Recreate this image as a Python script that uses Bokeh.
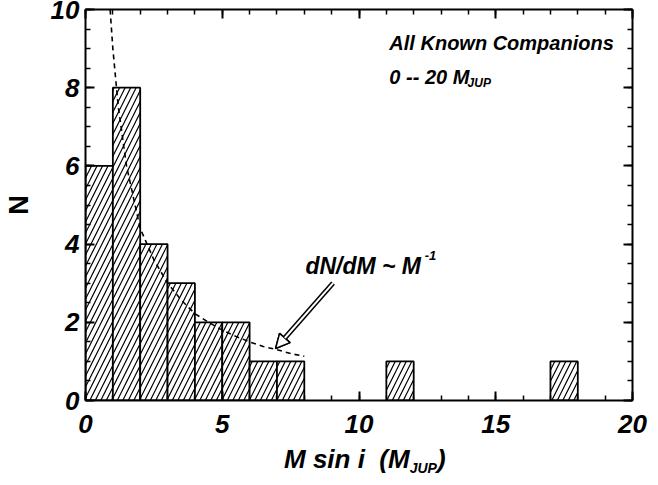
from bokeh.plotting import figure
from bokeh.models import Range1d, LinearAxis, SingleIntervalTicker, Label, Arrow, NormalHead, Div
from bokeh.layouts import column
from bokeh.embed import file_html
from bokeh.resources import INLINE

# Histogram of companion masses (M sin i, Jupiter masses), bins of width 1
bin_left = [0, 1, 2, 3, 4, 5, 6, 7, 11, 17]
bin_right = [1, 2, 3, 4, 5, 6, 7, 8, 12, 18]
counts = [6, 8, 4, 3, 2, 2, 1, 1, 1, 1]

# dashed dN/dM ~ M^-1 curve
curve_m = [0.9, 1.0, 1.2, 1.5, 2.0, 2.5, 3.0, 3.5, 4.0, 4.5, 5.0, 5.5, 6.0, 6.5, 7.0, 7.5, 8.0]
curve_n = [10.0, 9.0, 7.5, 6.0, 4.4, 3.6, 3.0, 2.57, 2.22, 2.0, 1.8, 1.64, 1.5, 1.38, 1.3, 1.2, 1.13]

# arrow pointing at the curve
arrow_tail = (9.05, 3.0)
arrow_tip = (6.95, 1.33)

x_ticks_interval = 5
y_ticks_interval = 2

FONT = "Liberation Sans"

p = figure(x_range=Range1d(0, 20), y_range=Range1d(0, 10),
           frame_width=547, frame_height=391,
           min_border_left=85, min_border_right=16, min_border_top=9, min_border_bottom=44,
           output_backend="svg", toolbar_location=None,
           x_axis_location=None, y_axis_location=None)
p.grid.visible = False
p.outline_line_color = None
p.background_fill_color = "white"
p.border_fill_color = "white"


def style_axis(ax, show_labels):
    ax.axis_line_width = 2
    ax.axis_line_color = "black"
    ax.major_tick_line_width = 2
    ax.minor_tick_line_width = 1.5
    ax.major_tick_line_color = "black"
    ax.minor_tick_line_color = "black"
    ax.major_tick_in = 9
    ax.major_tick_out = 0
    ax.minor_tick_in = 5
    ax.minor_tick_out = 0
    ax.major_label_text_font = FONT
    ax.major_label_text_font_style = "bold italic"
    if show_labels:
        ax.major_label_text_color = "black"
        ax.major_label_text_font_size = "26px"
    else:
        ax.major_label_text_color = None
        ax.major_label_text_font_size = "1px"
        ax.major_label_standoff = 0


xb = LinearAxis(ticker=SingleIntervalTicker(interval=x_ticks_interval, num_minor_ticks=5))
style_axis(xb, True)
xb.major_label_standoff = 14
p.add_layout(xb, "below")

xt = LinearAxis(ticker=SingleIntervalTicker(interval=x_ticks_interval, num_minor_ticks=5))
style_axis(xt, False)
p.add_layout(xt, "above")

yl = LinearAxis(ticker=SingleIntervalTicker(interval=y_ticks_interval, num_minor_ticks=4))
style_axis(yl, True)
yl.major_label_standoff = 6
yl.axis_label = "N"
yl.axis_label_text_font = FONT
yl.axis_label_text_font_style = "bold"
yl.axis_label_text_font_size = "27px"
yl.axis_label_text_color = "black"
yl.axis_label_standoff = 14
p.add_layout(yl, "left")

yr = LinearAxis(ticker=SingleIntervalTicker(interval=y_ticks_interval, num_minor_ticks=4))
style_axis(yr, False)
p.add_layout(yr, "right")

# histogram bars
p.quad(left=bin_left, right=bin_right, top=counts, bottom=0,
       fill_color="white", line_color="black", line_width=1.8,
       hatch_pattern="/", hatch_color="black", hatch_scale=11, hatch_weight=1.2)

# dashed power law
p.line(curve_m, curve_n, line_color="black", line_width=1.6, line_dash="5 4")

# hollow arrow: thick black shaft, thin white core, open head
head_kw = dict(size=14, fill_color="white", line_color="black", line_width=1.5)
p.add_layout(Arrow(x_start=arrow_tail[0], y_start=arrow_tail[1], x_end=arrow_tip[0], y_end=arrow_tip[1],
                   line_color="black", line_width=5, end=NormalHead(**head_kw)))
p.add_layout(Arrow(x_start=arrow_tail[0], y_start=arrow_tail[1], x_end=arrow_tip[0], y_end=arrow_tip[1],
                   line_color="white", line_width=2, end=NormalHead(**head_kw)))


def add_text(x, y, text, size):
    p.add_layout(Label(x=x, y=y, text=text, text_font=FONT, text_font_style="bold italic",
                       text_font_size=size, text_color="black", text_baseline="alphabetic",
                       text_align="left"))


add_text(11.11, 9.14, "All Known Companions", "20px")
add_text(11.11, 8.27, "0 -- 20 M", "20px")
add_text(13.97, 8.12, "JUP", "12px")

add_text(8.04, 3.45, "dN/dM ~  M", "23px")
add_text(12.40, 3.72, "-1", "13px")

# x axis title (with subscript) as real HTML text under the figure
x_title = Div(
    text=('<div style="font-family:\'Liberation Sans\';font-weight:bold;font-style:italic;'
          'font-size:26px;line-height:30px;white-space:pre;padding-left:284px;color:black;">'
          'M sin i  (M<span style="font-size:14px;position:relative;top:5px;">JUP</span>)</div>'),
    width=642, height=30, margin=(0, 0, 0, 0))

layout = column(p, x_title, spacing=0)

open("out.html", "w").write(file_html(layout, INLINE))
